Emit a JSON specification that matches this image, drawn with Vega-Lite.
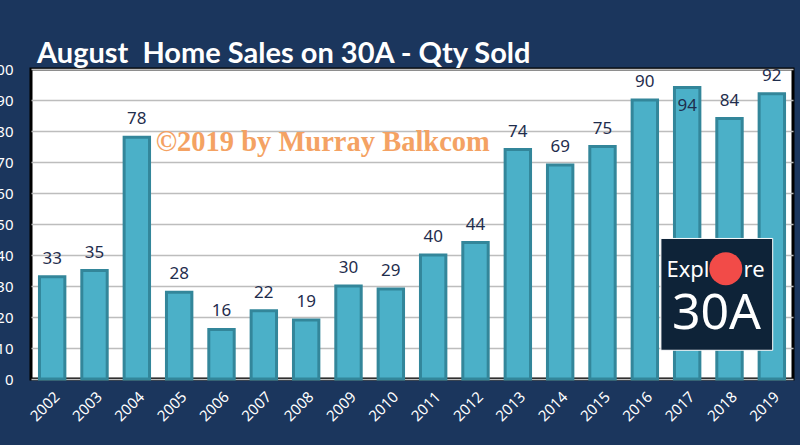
{
  "$schema": "https://vega.github.io/schema/vega-lite/v6.json",
  "width": 762,
  "height": 310,
  "autosize": {"type": "none"},
  "padding": {"left": 31, "top": 69, "right": 7, "bottom": 66},
  "background": "#1b365d",
  "title": {
    "text": "August\u00a0 Home Sales on 30A - Qty Sold",
    "anchor": "start",
    "frame": "group",
    "dx": 6,
    "dy": 37,
    "offset": 7,
    "baseline": "alphabetic",
    "font": "Lato",
    "fontSize": 29,
    "fontWeight": "bold",
    "color": "white"
  },
  "config": {
    "view": {"fill": "white", "stroke": "black", "strokeWidth": 3},
    "axis": {"labelColor": "white", "labelFont": "Noto Sans", "domain": false, "ticks": false}
  },
  "datasets": {
    "sales": [
      {"year": "2002", "n": 33}, {"year": "2003", "n": 35}, {"year": "2004", "n": 78},
      {"year": "2005", "n": 28}, {"year": "2006", "n": 16}, {"year": "2007", "n": 22},
      {"year": "2008", "n": 19}, {"year": "2009", "n": 30}, {"year": "2010", "n": 29},
      {"year": "2011", "n": 40}, {"year": "2012", "n": 44}, {"year": "2013", "n": 74},
      {"year": "2014", "n": 69}, {"year": "2015", "n": 75}, {"year": "2016", "n": 90},
      {"year": "2017", "n": 94}, {"year": "2018", "n": 84}, {"year": "2019", "n": 92}
    ],
    "mark": [{"year": "2004", "n": 76.5, "t": "©2019 by Murray Balkcom"}],
    "logo": [
      {"year": "2018", "part": "box", "n": 27.3},
      {"year": "2018", "part": "dot", "n": 35.6},
      {"year": "2018", "part": "word", "n": 32.9},
      {"year": "2018", "part": "big", "n": 16.1}
    ]
  },
  "encoding": {
    "x": {
      "field": "year", "type": "nominal", "sort": null,
      "scale": {"paddingInner": 0.4, "paddingOuter": 0.2},
      "axis": {"title": null, "labelAngle": -45, "labelFontSize": 15, "labelPadding": 10}
    },
    "y": {
      "field": "n", "type": "quantitative",
      "scale": {"domain": [0, 100], "nice": false},
      "axis": {"title": null, "values": [0,10,20,30,40,50,60,70,80,90,100], "tickCount": 20, "labelOverlap": false, "labelFontSize": 15, "labelPadding": 18, "gridColor": "#bdbdbd", "gridWidth": 1.5}
    }
  },
  "layer": [
    {
      "data": {"name": "sales"},
      "mark": {"type": "bar", "fill": "#4bb0c8", "stroke": "#33869a", "strokeWidth": 3}
    },
    {
      "data": {"name": "sales"},
      "transform": [{"filter": "datum.n < 93"}],
      "mark": {"type": "text", "dy": -18, "baseline": "middle", "font": "Noto Sans", "fontSize": 17, "color": "#1f2d4d"},
      "encoding": {"text": {"field": "n"}}
    },
    {
      "data": {"name": "sales"},
      "transform": [{"filter": "datum.n >= 93"}],
      "mark": {"type": "text", "dy": 18, "baseline": "middle", "font": "Noto Sans", "fontSize": 17, "color": "#1f2d4d"},
      "encoding": {"text": {"field": "n"}}
    },
    {
      "data": {"name": "mark"},
      "mark": {"type": "text", "align": "left", "dx": 19, "baseline": "middle", "font": "Liberation Serif", "fontWeight": "bold", "fontSize": 28.5, "color": "#f4a263"},
      "encoding": {"text": {"field": "t"}}
    },
    {
      "data": {"name": "logo"},
      "transform": [{"filter": "datum.part == 'box'"}],
      "mark": {"type": "point", "shape": "square", "filled": true, "size": 12500, "fill": "#0e2338", "stroke": "white", "strokeWidth": 1, "opacity": 1},
      "encoding": {"xOffset": {"value": 0}}
    },
    {
      "data": {"name": "logo"},
      "transform": [{"filter": "datum.part == 'dot'"}],
      "mark": {"type": "point", "shape": "circle", "filled": true, "size": 1089, "fill": "#f24b48", "opacity": 1},
      "encoding": {"xOffset": {"value": 9}}
    },
    {
      "data": {"name": "logo"},
      "transform": [{"filter": "datum.part == 'word'"}],
      "mark": {"type": "text", "align": "right", "dx": -20, "baseline": "alphabetic", "font": "Noto Sans", "fontSize": 22, "color": "white", "text": "Expl"}
    },
    {
      "data": {"name": "logo"},
      "transform": [{"filter": "datum.part == 'word'"}],
      "mark": {"type": "text", "align": "left", "dx": 14, "baseline": "alphabetic", "font": "Noto Sans", "fontSize": 22, "color": "white", "text": "re"}
    },
    {
      "data": {"name": "logo"},
      "transform": [{"filter": "datum.part == 'big'"}],
      "mark": {"type": "text", "align": "center", "dx": -13, "baseline": "alphabetic", "font": "Noto Sans", "fontSize": 50, "color": "white", "text": "30A"}
    }
  ]
}
